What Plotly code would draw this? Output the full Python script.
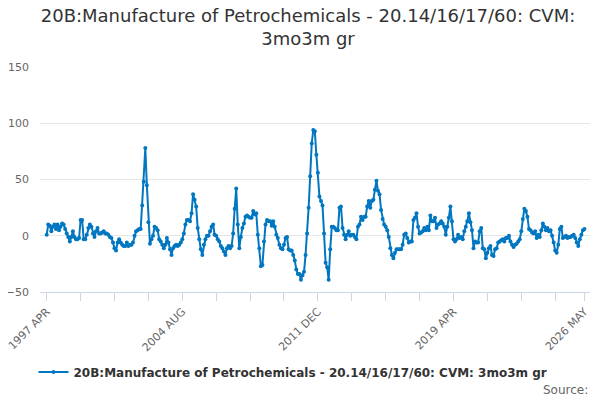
import pandas as pd
import plotly.graph_objects as go

# monthly series, 1997 APR .. 2026 MAY
values = [
    1, 10, 9, 4, 8, 10, 6, 10, 5, 8, 11, 10,
    6, 2, -1, -5, -1, 4, -1, -3, -3, -2, 14, 14,
    -3, -3, 1, 7, 10, 8, 2, -1, 4, 7, 2, 2,
    3, 4, 2, 2, 1, -1, -2, -6, -11, -13, -6, -3,
    -6, -8, -9, -9, -6, -9, -8, -8, -6, 0, 4, 5,
    6, 6, 27, 48, 78, 45, 12, -7, -3, 0, 8, 7,
    5, -3, -5, -8, -11, -8, -2, -6, -12, -17, -11, -9,
    -8, -9, -8, -6, -3, 2, 10, 14, 14, 13, 20, 37,
    32, 26, 7, -3, -12, -17, -8, -3, 0, 0, 4, 8,
    10, 1, 0, -3, -5, -9, -11, -14, -17, -11, -9, -11,
    -9, 2, 24, 42, 10, -11, -1, 7, 11, 17, 18, 17,
    16, 16, 22, 19, 20, 1, -11, -27, -26, -5, 10, 14,
    13, 13, 9, 13, 8, 1, -2, -8, -11, -12, -8, -2,
    -1, -12, -13, -13, -17, -22, -30, -34, -34, -39, -35, -32,
    -17, 2, 25, 53, 82, 94, 93, 72, 56, 35, 31, 27,
    2, -24, -28, -39, -12, 8, 8, 7, 5, 5, 25, 26,
    7, 1, -3, 1, 4, 0, 1, 1, -1, -3, 8, 10,
    17, 14, 17, 17, 26, 31, 25, 31, 32, 41, 49, 40,
    37, 23, 15, 10, 8, 5, -1, -11, -17, -20, -15, -12,
    -12, -12, -12, -8, 1, 2, -2, -6, -5, -5, 14, 16,
    20, 8, 2, 3, 4, 7, 5, 8, 5, 18, 13, 13,
    16, 7, 10, 11, 13, 11, 8, 1, 8, 16, 26, 13,
    -3, -5, -3, 1, -2, -1, -3, 4, 8, 13, 20, 12,
    5, -11, -5, -6, -6, 4, 7, -11, -12, -20, -15, -11,
    -9, -17, -18, -12, -11, -6, -5, -4, -3, -5, -2, -2,
    0, -5, -8, -10, -8, -7, -5, -3, 4, 15, 24, 22,
    17, 6, 5, 3, 2, 4, -2, 1, -1, 5, 11, 8,
    5, 7, 4, 5, 0, -6, -13, -15, -8, 6, 8, -2,
    -1, 0, -2, -1, -1, 0, 1, -2, -6, -9, -3, 1,
    5, 6,
]

months = list(pd.date_range("1997-04-01", periods=len(values), freq="MS")
              .strftime("%Y %b").str.upper())
pos = list(range(len(values)))

# ticks every 22 months, labels on every fourth tick, plus the last month
tick_vals = pos[::22] + [pos[-1]]
tick_text = [months[p] if k % 4 == 0 else "" for k, p in enumerate(pos[::22])] + [months[-1]]

series_name = "20B:Manufacture of Petrochemicals - 20.14/16/17/60: CVM: 3mo3m gr"
blue = "#0077c0"

fig = go.Figure()
fig.add_trace(go.Scatter(
    x=pos, y=values, mode="lines+markers", name=series_name,
    text=months, hovertemplate="%{text}: %{y}<extra></extra>",
    line=dict(color=blue, width=2),
    marker=dict(color=blue, size=4),
))

# the page body adds an 8px offset, so margins are shifted to compensate
fig.update_layout(
    width=600, height=400,
    margin=dict(l=32, r=18, t=59, b=116),
    paper_bgcolor="white", plot_bgcolor="white",
    font=dict(family="DejaVu Sans", color="#666666"),
    title=dict(text="20B:Manufacture of Petrochemicals - 20.14/16/17/60: CVM:<br>3mo3m gr",
               x=0.5, xanchor="center", xref="container",
               y=0.965, yanchor="middle", yref="container",
               font=dict(size=18, color="#333333")),
    showlegend=True,
    legend=dict(orientation="h", xref="container", x=0.475, xanchor="center",
                yref="container", y=0.09, yanchor="middle",
                font=dict(size=12, color="#333333", weight="bold")),
    xaxis=dict(range=[-4.35, 352.6], automargin=False, ticklabeloverflow="allow",
               tickmode="array", tickvals=tick_vals, ticktext=tick_text,
               tickangle=-45, tickfont=dict(size=11, color="#666666"),
               ticks="outside", ticklen=8, tickcolor="#ccd6eb",
               showline=True, linecolor="#ccd6eb", linewidth=1,
               showgrid=False, zeroline=False),
    yaxis=dict(range=[-50, 150], tickvals=[-50, 0, 50, 100, 150], automargin=False,
               ticklabeloverflow="allow",
               tickfont=dict(size=11, color="#666666"), ticklabelstandoff=10,
               gridcolor="#e6e6e6", zeroline=False, ticks=""),
    annotations=[dict(text="Source:", xref="paper", yref="paper",
                      x=1.0, y=-0.435, xanchor="right", yanchor="middle",
                      showarrow=False, font=dict(size=12, color="#666666"))],
)

fig.write_html("out.html")
